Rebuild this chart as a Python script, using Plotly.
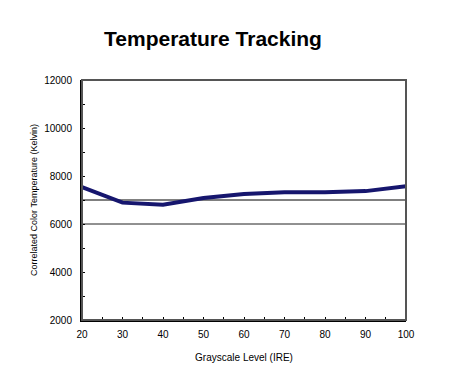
import plotly.graph_objects as go

ire = [20, 30, 40, 50, 60, 70, 80, 90, 100]
cct = [7540, 6890, 6800, 7080, 7250, 7320, 7320, 7370, 7570]
ref_upper = 7000
ref_lower = 6000
x_ticks = [20, 30, 40, 50, 60, 70, 80, 90, 100]
y_ticks = [2000, 4000, 6000, 8000, 10000, 12000]
y_tick_labels = ["2000", "4000", "6000", "8000", "10000", "12000"]

fig = go.Figure()
fig.add_trace(go.Scatter(x=ire, y=cct, mode="lines",
                         line=dict(color="#16166e", width=4), showlegend=False))

# page body has an 8px margin, so the figure is offset accordingly
fig.update_layout(
    width=450, height=373,
    margin=dict(l=74, r=52, t=72, b=61, autoexpand=False),
    paper_bgcolor="white", plot_bgcolor="white",
    font=dict(family="Liberation Sans, Arial", color="black", size=10),
    title=dict(text="<b>Temperature Tracking</b>", x=205 / 450, xref="container",
               xanchor="center", y=1 - 31 / 373, yanchor="middle",
               font=dict(size=21, color="black"), automargin=False),
)
fig.add_shape(type="rect", xref="paper", yref="paper", x0=0, y0=0, x1=1, y1=1,
              line=dict(color="#555555", width=2), layer="above")
fig.add_hline(y=ref_upper, line=dict(color="black", width=1), layer="below")
fig.add_hline(y=ref_lower, line=dict(color="#222222", width=1), layer="below")

fig.update_xaxes(range=[20, 100], tickvals=x_ticks, ticks="inside", ticklen=3,
                 tickcolor="black", showgrid=False, zeroline=False, automargin=False,
                 showline=True, linecolor="black", linewidth=2,
                 minor=dict(dtick=5, tick0=0, ticks="inside", ticklen=3, tickcolor="black"),
                 title=dict(text="Grayscale Level (IRE)", font=dict(size=10), standoff=15),
                 tickfont=dict(size=10), ticklabelstandoff=4)
fig.update_yaxes(range=[2000, 12000], tickvals=y_ticks, ticktext=y_tick_labels,
                 ticks="inside", ticklen=3, automargin=False,
                 tickcolor="black", showgrid=False, zeroline=False,
                 showline=True, linecolor="black", linewidth=2,
                 minor=dict(dtick=1000, tick0=0, ticks="inside", ticklen=3, tickcolor="black"),
                 title=dict(text="Correlated Color Temperature (Kelvin)", font=dict(size=9), standoff=5),
                 tickfont=dict(size=10), ticklabelstandoff=6)

fig.write_html("out.html")
